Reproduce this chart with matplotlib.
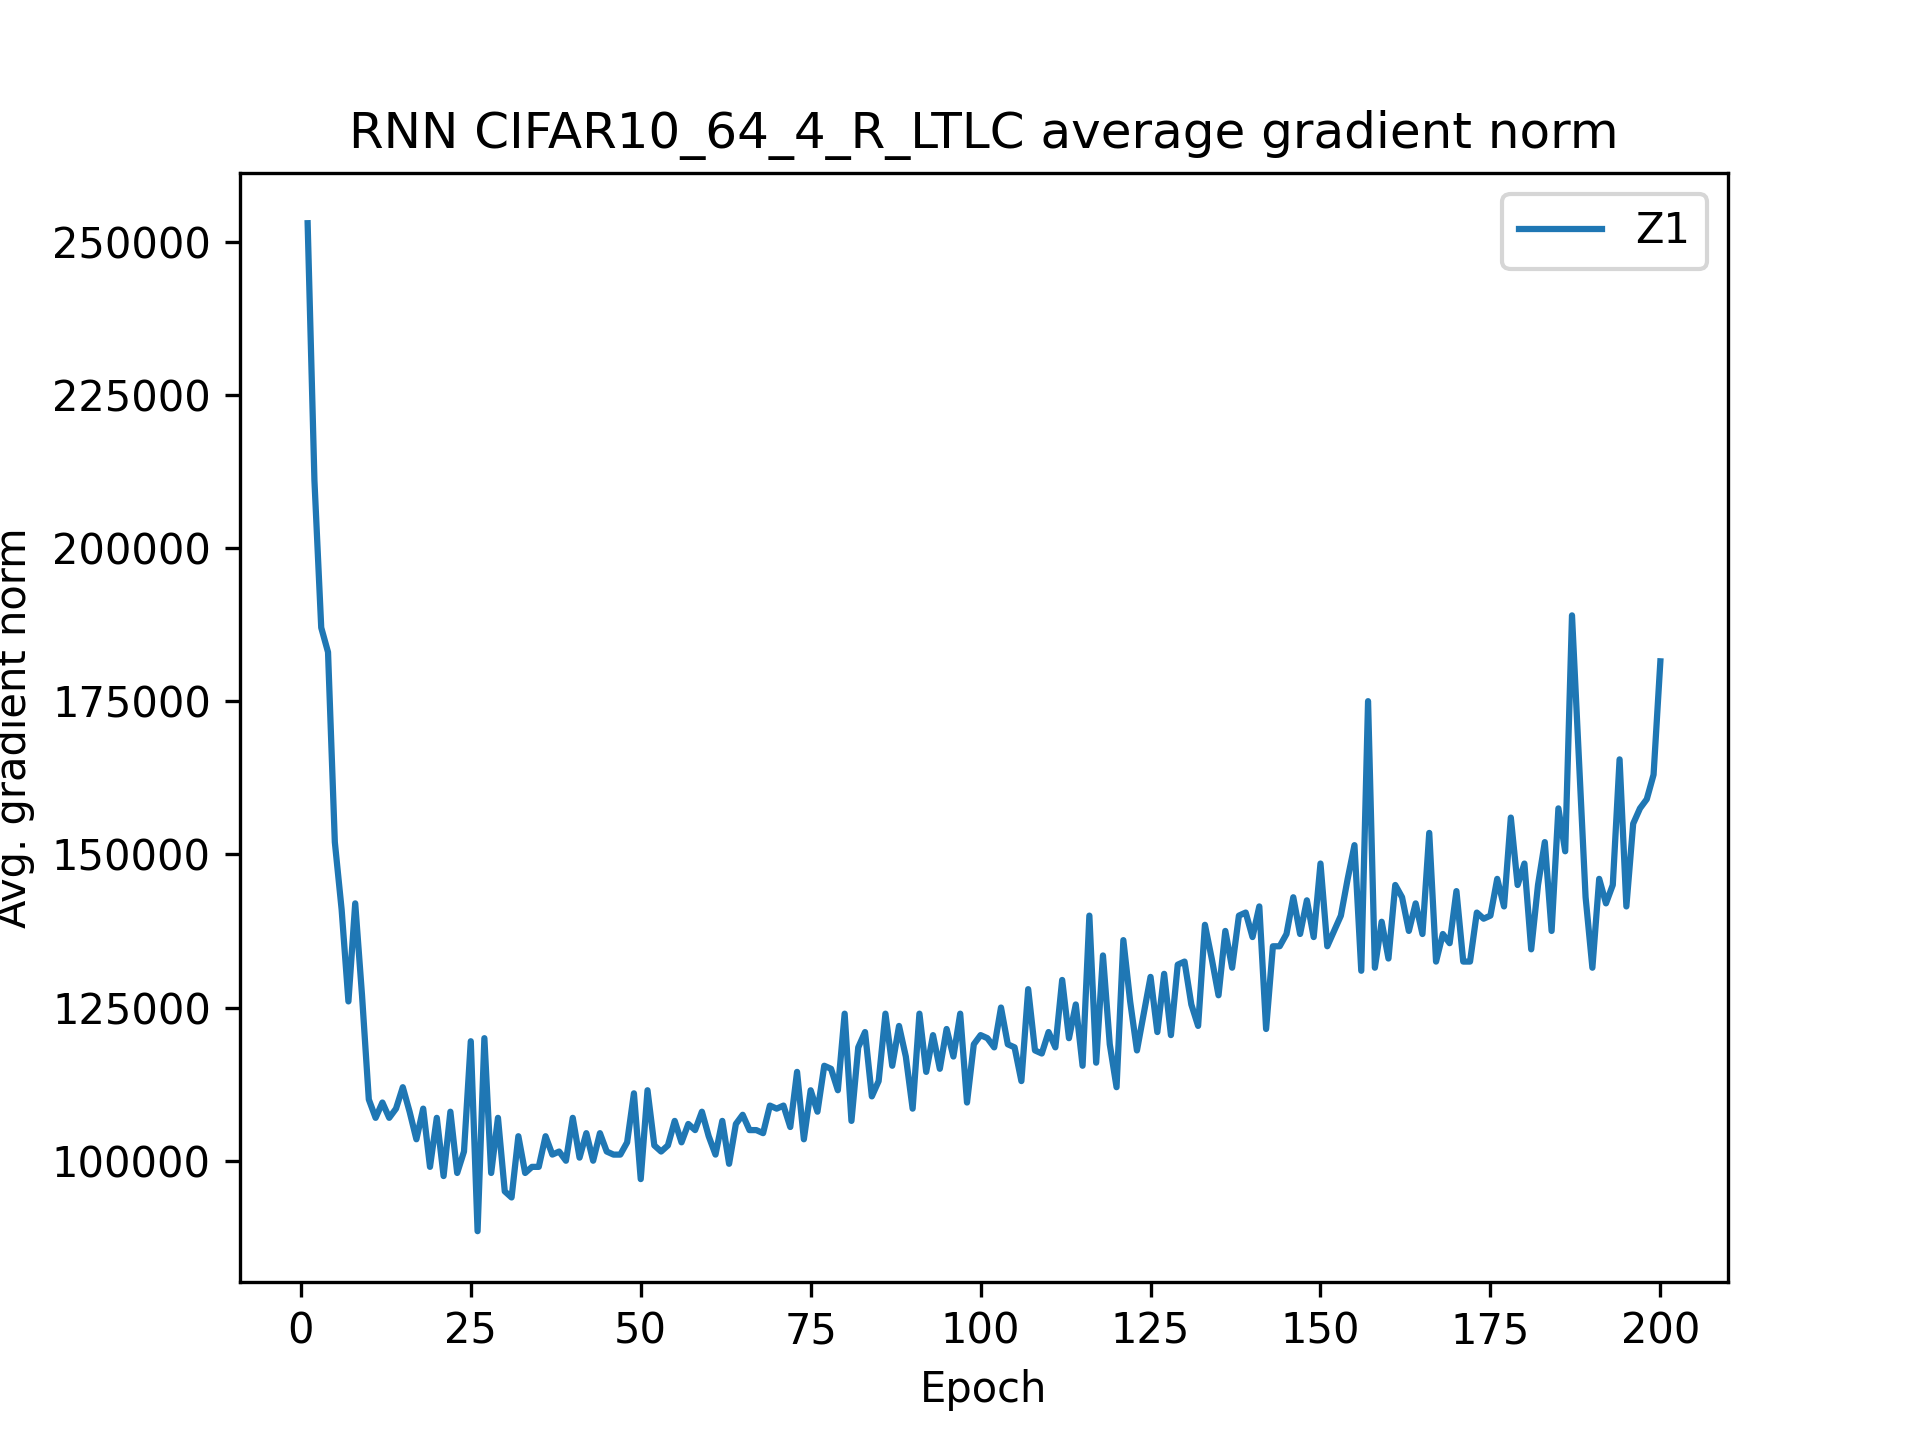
import matplotlib
matplotlib.use("Agg")
import matplotlib.pyplot as plt

epochs = list(range(1, 201))
z1 = [253000,211000,187000,183000,152000,141000,126000,142000,127000,110000,
      107000,109500,107000,108500,112000,108000,103500,108500,99000,107000,
      97500,108000,98000,101500,119500,88500,120000,98000,107000,95000,
      94000,104000,98000,99000,99000,104000,101000,101500,100000,107000,
      100500,104500,100000,104500,101500,101000,101000,103000,111000,97000,
      111500,102500,101500,102500,106500,103000,106000,105000,108000,104000,
      101000,106500,99500,106000,107500,105000,105000,104500,109000,108500,
      109000,105500,114500,103500,111500,108000,115500,115000,111500,124000,
      106500,118500,121000,110500,113000,124000,115500,122000,117000,108500,
      124000,114500,120500,115000,121500,117000,124000,109500,119000,120500,
      120000,118500,125000,119000,118500,113000,128000,118000,117500,121000,
      118500,129500,120000,125500,115500,140000,116000,133500,119000,112000,
      136000,126000,118000,124000,130000,121000,130500,120500,132000,132500,
      125500,122000,138500,133000,127000,137500,131500,140000,140500,136500,
      141500,121500,135000,135000,137000,143000,137000,142500,136500,148500,
      135000,137500,140000,146000,151500,131000,175000,131500,139000,133000,
      145000,143000,137500,142000,137000,153500,132500,137000,135500,144000,
      132500,132500,140500,139500,140000,146000,141500,156000,145000,148500,
      134500,145000,152000,137500,157500,150500,189000,166000,143000,131500,
      146000,142000,145000,165500,141500,155000,157500,159000,163000,181500]

fig, ax = plt.subplots(figsize=(6.4, 4.8), dpi=300)
ax.plot(epochs, z1, color="#1f77b4", label="Z1")
ax.set_title("RNN CIFAR10_64_4_R_LTLC average gradient norm")
ax.set_xlabel("Epoch")
ax.set_ylabel("Avg. gradient norm")
ax.legend(loc="upper right")
fig.savefig("out.png", dpi=300)
